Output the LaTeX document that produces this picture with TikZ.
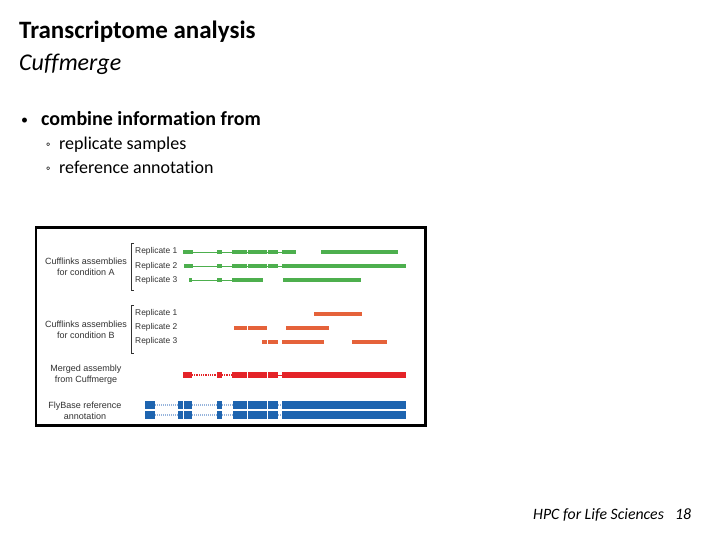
\documentclass[tikz,border=0pt]{standalone}
\usepackage{fontspec}
\setmainfont{Carlito}[RawFeature={-liga;-dlig;-calt;-clig}]
\newfontfamily\figfont{Liberation Sans}
\definecolor{gexon}{RGB}{77,175,78}
\definecolor{oexon}{RGB}{229,98,58}
\definecolor{rexon}{RGB}{228,35,40}
\definecolor{bexon}{RGB}{30,100,175}
\definecolor{bintron}{RGB}{150,180,220}
\definecolor{labgray}{RGB}{50,50,50}
\tikzset{
  slidetitle/.style={anchor=base west, inner sep=0pt, font=\fontsize{25}{28}\selectfont\bfseries},
  slidesub/.style={anchor=base west, inner sep=0pt, font=\fontsize{24}{28}\selectfont\itshape},
  bulletone/.style={anchor=base west, inner sep=0pt, font=\fontsize{20}{24}\selectfont\bfseries},
  bulletdot/.style={anchor=base west, inner sep=0pt, font=\fontsize{14}{16}\selectfont},
  subdot/.style={anchor=base west, inner sep=0pt, font=\fontsize{12}{14}\selectfont},
  bullettwo/.style={anchor=base west, inner sep=0pt, font=\fontsize{18}{21}\selectfont},
  footer/.style={anchor=base west, inner sep=0pt, font=\fontsize{15.8}{18}\selectfont\itshape},
  figlab/.style={inner sep=0pt, align=center, text=labgray, font=\figfont\fontsize{9}{11}\selectfont},
  replab/.style={anchor=west, inner sep=0pt, text=labgray, font=\figfont\fontsize{8.4}{10}\selectfont},
  bracketline/.style={draw=labgray, line width=0.8pt},
  gintron/.style={draw=gexon, line width=0.8pt},
  rintron/.style={draw=rexon, line width=1.6pt, dash pattern=on 1pt off 0.8pt},
  bintronline/.style={draw=bintron, line width=2pt, dash pattern=on 1pt off 1pt},
}
\begin{document}
\begin{tikzpicture}[x=1pt,y=-1pt]
\useasboundingbox (0,0) rectangle (720,540);
\fill[white] (0,0) rectangle (720,540);

% slide texts
\node[slidetitle] (title) at (19,39) {Transcriptome analysis};
\node[slidesub] (sub) at (19,71) {Cuffmerge};
\node[bulletdot] (b1dot) at (21,125) {•};
\node[bulletone] (b1) at (41,126) {combine information from};
\node[subdot] (b2dot) at (46,149) {◦};
\node[bullettwo] (b2) at (59,150) {replicate samples};
\node[subdot] (b3dot) at (46,173) {◦};
\node[bullettwo] (b3) at (59,174) {reference annotation};
\node[footer] (foot) at (533,519) {HPC for Life Sciences};
\node[footer] (page) at (675,519) {18};

% figure frame
\draw[line width=2.4pt] (36,227.5) rectangle (425.5,425.5);

% left labels
\node[figlab] (labA) at (86,267) {Cufflinks assemblies\\for condition A};
\node[figlab] (labB) at (86,330) {Cufflinks assemblies\\for condition B};
\node[figlab] (labM) at (86,375) {Merged assembly\\from Cuffmerge};
\node[figlab] (labF) at (85,411) {FlyBase reference\\annotation};

% brackets
\draw[bracketline] (134,243) -- (131,243) -- (131,290) -- (134,290);
\draw[bracketline] (134,305) -- (131,305) -- (131,353) -- (134,353);

% replicate labels
\node[replab] (rA1) at (135,251.5) {Replicate 1};
\node[replab] (rA2) at (135,266) {Replicate 2};
\node[replab] (rA3) at (135,280.5) {Replicate 3};
\node[replab] (rB1) at (135,313.5) {Replicate 1};
\node[replab] (rB2) at (135,327.5) {Replicate 2};
\node[replab] (rB3) at (135,341.5) {Replicate 3};

% green condition A
\draw[gintron] (192,252) -- (282,252);
\foreach \a/\b in {182.7/192.7, 216.7/222.3, 231.7/246.9, 247.7/267.3, 268/278.3, 281.7/296, 320.7/398.3}
  \fill[gexon] (\a,250) rectangle (\b,254);
\draw[gintron] (192,266) -- (282,266);
\foreach \a/\b in {184/192.7, 217/222, 231.7/246.9, 247.7/267.3, 268/278.3, 281.7/406}
  \fill[gexon] (\a,264) rectangle (\b,268);
\draw[gintron] (190,280) -- (232,280);
\foreach \a/\b in {189/192.3, 217.3/221.7, 231.7/262.7, 282.7/361}
  \fill[gexon] (\a,278) rectangle (\b,282);

% orange condition B
\foreach \a/\b in {314/362.3}
  \fill[oexon] (\a,312) rectangle (\b,316);
\foreach \a/\b in {234.3/246.7, 247.7/266.7, 286/329}
  \fill[oexon] (\a,326) rectangle (\b,330);
\foreach \a/\b in {262/267.3, 268.3/278.3, 281.7/324, 351.7/387}
  \fill[oexon] (\a,340) rectangle (\b,344);

% red merged
\draw[rintron] (192,375) -- (217,375);
\draw[rintron] (222,375) -- (232,375);
\draw[draw=rexon, line width=1pt] (278,375) -- (282,375);
\foreach \a/\b in {182.7/192.2, 216.7/222.3, 231.7/246.9, 247.7/267.3, 268/278.3, 281.7/406}
  \fill[rexon] (\a,372.2) rectangle (\b,378);

% blue FlyBase
\foreach \y in {405.2, 415}{
  \draw[bintronline] (155,\y) -- (178.3,\y);
  \draw[bintronline] (192.3,\y) -- (217.3,\y);
  \draw[bintronline] (221.7,\y) -- (233.3,\y);
  \draw[bintronline] (278.3,\y) -- (282.3,\y);
  \foreach \a/\b in {144.7/155, 178.3/182.7, 184.3/192.3, 217.3/221.7, 233.3/246.9, 247.7/267.3, 268.3/278.3, 282.3/405.5}
    \fill[bexon] (\a,\y-4.2) rectangle (\b,\y+4.2);
}
\end{tikzpicture}
\end{document}
